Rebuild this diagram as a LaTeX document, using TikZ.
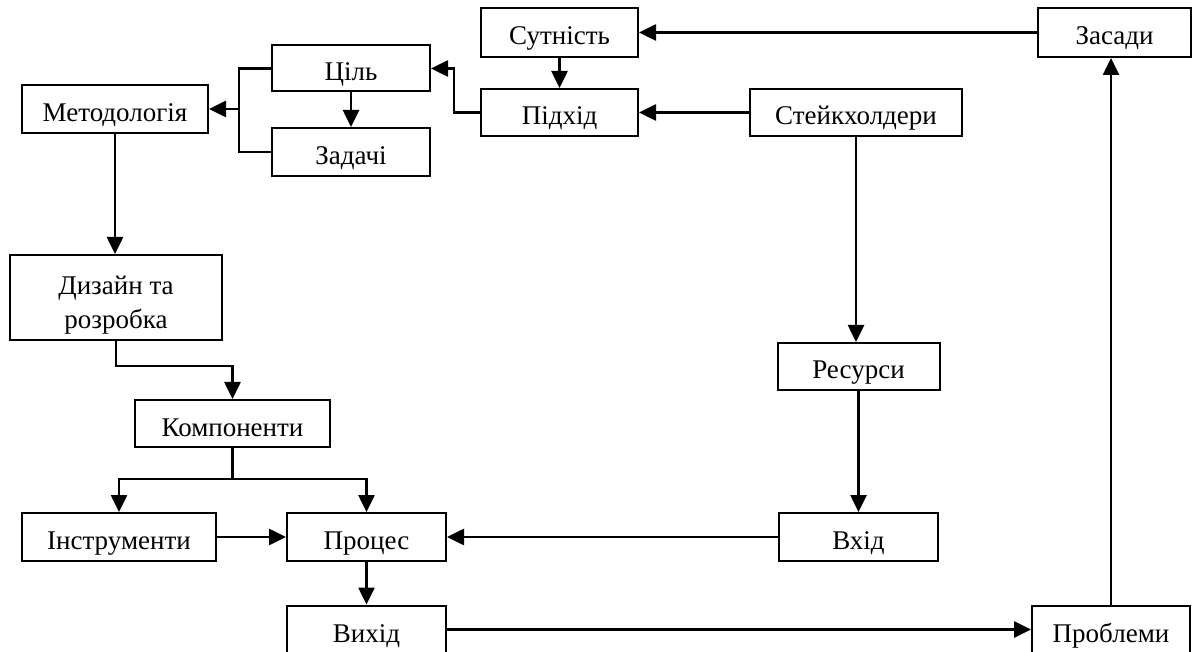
\documentclass[tikz,border=0pt]{standalone}
\usepackage{fontspec}
\setmainfont{Liberation Serif}
\usetikzlibrary{arrows.meta}
\tikzset{
  blkbase/.style={draw, line width=2pt, inner sep=2pt, align=center,
    font=\fontsize{27}{34}\selectfont},
  blk/.style={blkbase, text height=25pt, text depth=0pt},
  conn/.style={line width=2.6pt},
  arr/.style={conn, -{Triangle[length=17pt,width=16pt]}}
}
\begin{document}
\begin{tikzpicture}[x=1pt,y=-1pt]
      \useasboundingbox (0,0) rectangle (1192,652);
      \clip (0,0) rectangle (1192,652);
      \node[blk, minimum width=157pt, minimum height=49pt] (sutnist) at (559.5,32.5) {Сутність};
      \node[blk, minimum width=153pt, minimum height=49pt] (zasady) at (1114.5,32.5) {Засади};
      \node[blk, minimum width=158pt, minimum height=46pt] (tsil) at (351,68.5) {Ціль};
      \node[blk, minimum width=158pt, minimum height=48pt] (zadachi) at (351,152) {Задачі};
      \node[blk, minimum width=186pt, minimum height=48pt] (metod) at (115,109) {Методологія};
      \node[blk, minimum width=157pt, minimum height=47pt] (pidkhid) at (559.5,112.5) {Підхід};
      \node[blk, minimum width=212pt, minimum height=47pt] (steik) at (856,112.5) {Стейкхолдери};
      \node[blkbase, text height=68pt, minimum width=212pt, minimum height=85pt] (dyzain) at (116,297.5) {Дизайн та\\розробка};
      \node[blk, minimum width=195pt, minimum height=47pt] (komp) at (232.5,423.5) {Компоненти};
      \node[blk, minimum width=162pt, minimum height=47pt] (resursy) at (858.5,366.5) {Ресурси};
      \node[blk, minimum width=194pt, minimum height=48pt] (instr) at (119,537) {Інструменти};
      \node[blk, minimum width=159pt, minimum height=48pt] (protses) at (366.5,537) {Процес};
      \node[blk, minimum width=159pt, minimum height=48pt] (vkhid) at (858.5,537) {Вхід};
      \node[blk, minimum width=159pt, minimum height=48pt] (vykhid) at (366.5,629.5) {Вихід};
      \node[blk, minimum width=158pt, minimum height=48pt] (problemy) at (1111,629.5) {Проблеми};
      \coordinate (j1) at (239,109);
      \coordinate (j2) at (232.5,479);
      \foreach \a/\b in {zasady/sutnist, sutnist/pidkhid, steik/pidkhid, tsil/zadachi,
          instr/protses, vkhid/protses, resursy/vkhid, protses/vykhid, vykhid/problemy}
        \draw[arr] (\a) -- (\b);
      \draw[arr] (pidkhid.west) -- ++(-26,0) |- (tsil.east);
      \draw[conn] (tsil.west) -| (j1) |- (zadachi.west);
      \draw[arr] (j1) -- (metod.east);
      \draw[arr] (metod.south) -- (metod.south |- dyzain.north);
      \draw[arr] (dyzain.south) -- ++(0,25) -| (komp.north);
      \draw[conn] (komp.south) -- (j2);
      \draw[arr] (j2) -| (instr.north);
      \draw[arr] (j2) -| (protses.north);
      \draw[arr] (steik.south) -- (steik.south |- resursy.north);
      \draw[arr] (problemy.north) -- (problemy.north |- zasady.south);
\end{tikzpicture}
\end{document}
